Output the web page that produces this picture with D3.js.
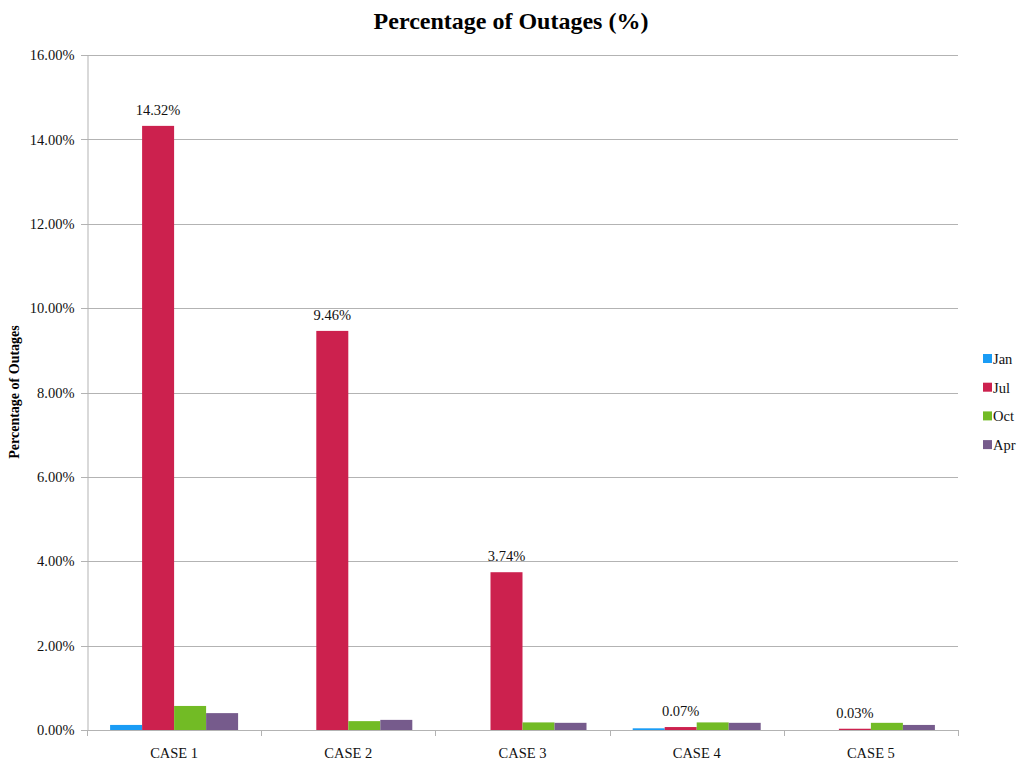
<!DOCTYPE html>
<html>
<head>
<meta charset="utf-8">
<script src="https://d3js.org/d3.v7.min.js"></script>
<style>
  body { margin: 0; background: #fff; }
  svg { font-family: "Liberation Serif", "Times New Roman", serif; }
</style>
</head>
<body>
<svg id="vis"></svg>
<script>
  var cases = ['CASE 1', 'CASE 2', 'CASE 3', 'CASE 4', 'CASE 5']
  var months = ['Jan', 'Jul', 'Oct', 'Apr']
  var jan = [0.12, 0, 0, 0.04, 0]
  var jul = [14.32, 9.46, 3.74, 0.07, 0.03]
  var oct = [0.57, 0.21, 0.18, 0.18, 0.17]
  var apr = [0.40, 0.24, 0.17, 0.17, 0.12]
  var yTicks = [0, 2, 4, 6, 8, 10, 12, 14, 16]
  var labelled = 'Jul'

  var colors = ['#1a9cf5', '#cc214e', '#72bb25', '#765b8c']
  var series = [jan, jul, oct, apr]

  var width = 1024, height = 764
  var margin = {top: 55, right: 66, bottom: 34, left: 87}

  var svg = d3.select('#vis')
    .attr('width', width)
    .attr('height', height)

  var x0 = d3.scaleBand()
    .domain(cases)
    .range([margin.left, width - margin.right])

  var x1 = d3.scaleBand()
    .domain(months)
    .range([0, 128])

  var y = d3.scaleLinear()
    .domain([0, 16])
    .range([height - margin.bottom, margin.top])

  // gridlines
  svg.append('g')
    .selectAll('line')
    .data(yTicks)
    .enter().append('line')
      .attr('x1', margin.left - 6)
      .attr('x2', width - margin.right)
      .attr('y1', function (d) { return Math.round(y(d)) + 0.5 })
      .attr('y2', function (d) { return Math.round(y(d)) + 0.5 })
      .attr('stroke', '#b3b3b3')
      .attr('stroke-width', 1)

  // y axis
  var y_axis = d3.axisLeft(y)
    .tickValues(yTicks)
    .tickSize(0)
    .tickPadding(13)
    .tickFormat(function (d) { return d.toFixed(2) + '%' })

  var gy = svg.append('g')
    .attr('transform', 'translate(' + (margin.left + 0.5) + ',0)')
    .call(y_axis)
  gy.select('.domain').attr('stroke', '#b3b3b3')
  gy.selectAll('text')
    .attr('font-family', '"Liberation Serif", serif')
    .attr('font-size', 14.5)
    .attr('fill', '#111')

  // x axis
  var x_axis = d3.axisBottom(x0)
    .tickSize(0)
    .tickPadding(17)

  var gx = svg.append('g')
    .attr('transform', 'translate(0,' + (Math.round(y(0)) + 0.5) + ')')
    .call(x_axis)
  gx.select('.domain').remove()
  gx.selectAll('text')
    .attr('font-family', '"Liberation Serif", serif')
    .attr('font-size', 14.5)
    .attr('fill', '#111')

  // x category ticks at band edges
  var edges = cases.map(function (c) { return x0(c) }).concat([x0.range()[1]])
  svg.append('g')
    .selectAll('line')
    .data(edges)
    .enter().append('line')
      .attr('x1', function (d) { return Math.round(d) + 0.5 })
      .attr('x2', function (d) { return Math.round(d) + 0.5 })
      .attr('y1', Math.round(y(0)))
      .attr('y2', Math.round(y(0)) + 6)
      .attr('stroke', '#b3b3b3')

  // bars
  var offset = (x0.bandwidth() - 128) / 2
  months.forEach(function (m, i) {
    svg.append('g')
      .selectAll('rect')
      .data(series[i])
      .enter().append('rect')
        .attr('x', function (d, j) { return x0(cases[j]) + offset + x1(m) })
        .attr('y', function (d) { return y(d) })
        .attr('width', x1.bandwidth())
        .attr('height', function (d) { return y(0) - y(d) })
        .attr('fill', colors[i])
  })

  // value labels
  var li = months.indexOf(labelled)
  svg.append('g')
    .selectAll('text')
    .data(series[li])
    .enter().append('text')
      .attr('x', function (d, j) { return x0(cases[j]) + offset + x1(labelled) + x1.bandwidth() / 2 })
      .attr('y', function (d) { return y(d) - 11 })
      .attr('text-anchor', 'middle')
      .attr('font-size', 14.5)
      .attr('fill', '#111')
      .text(function (d) { return d.toFixed(2) + '%' })

  // title
  svg.append('text')
    .attr('x', 511)
    .attr('y', 29)
    .attr('text-anchor', 'middle')
    .attr('font-size', 24)
    .attr('font-weight', 'bold')
    .text('Percentage of Outages (%)')

  // y label
  svg.append('text')
    .attr('transform', 'translate(19,' + 392 + ') rotate(-90)')
    .attr('text-anchor', 'middle')
    .attr('font-size', 14)
    .attr('font-weight', 'bold')
    .text('Percentage of Outages')

  // legend
  var legend = svg.append('g')
    .selectAll('g')
    .data(months)
    .enter().append('g')
      .attr('transform', function (d, i) { return 'translate(983,' + (354 + i * 28.7) + ')' })
  legend.append('rect')
    .attr('width', 9)
    .attr('height', 9)
    .attr('fill', function (d, i) { return colors[i] })
  legend.append('text')
    .attr('x', 10)
    .attr('y', 10)
    .attr('font-size', 14.5)
    .attr('fill', '#111')
    .text(function (d) { return d })
</script>
</body>
</html>
